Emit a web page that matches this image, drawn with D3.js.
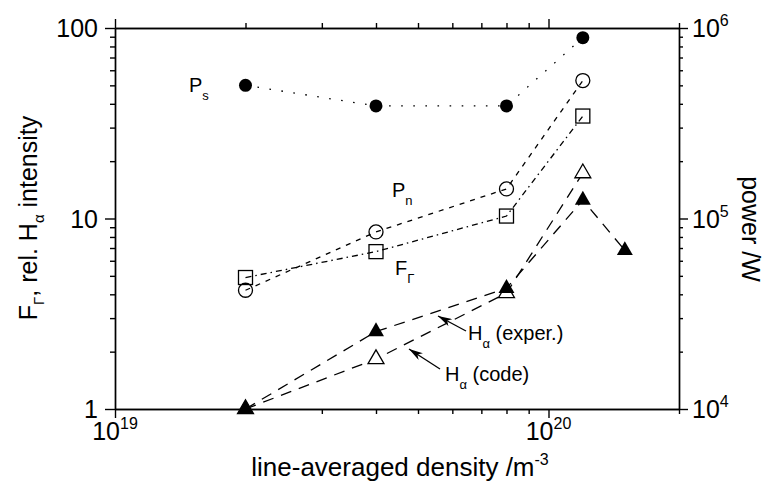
<!DOCTYPE html>
<html lang="en">
<head>
<meta charset="UTF-8"/>
<title>Density scan</title>
<script src="https://d3js.org/d3.v7.min.js"></script>
<style>
  body { margin: 0; background: #fff; }
  text { font-family: "Liberation Sans", Arial, sans-serif; fill: #000; }
</style>
</head>
<body>
<script>
    // line-averaged density (m^-3)
    var density = [2e19, 4e19, 8e19, 1.2e20];
    var densityHaExp = [2e19, 4e19, 8e19, 1.2e20, 1.5e20];

    // right axis (power /W)
    var ps = [5.0e5, 3.9e5, 3.9e5, 8.9e5];
    var pn = [4.2e4, 8.5e4, 1.43e5, 5.3e5];

    // left axis (F_Gamma, rel. H_alpha intensity)
    var fGamma = [4.9, 6.7, 10.3, 34.5];
    var haExp = [1.0, 2.55, 4.3, 12.5, 6.8];
    var haCode = [1.0, 1.83, 4.06, 17.3];

    var xMajor = [1e19, 1e20];
    var xMajorLabels = ["19", "20"];
    var yLeftMajor = [1, 10, 100];
    var yLeftLabels = ["1", "10", "100"];
    var yRightMajor = [1e4, 1e5, 1e6];
    var yRightLabels = ["4", "5", "6"];

    var w = 772, h = 486;
    var pLeft = 115, pRight = 679, pTop = 28, pBottom = 409;

    var svg = d3.select("body").append("svg")
        .attr("width", w)
        .attr("height", h);

    var x = d3.scaleLog().domain([1e19, 2e20]).range([pLeft, pRight]);
    var yL = d3.scaleLog().domain([1, 100]).range([pBottom, pTop]);
    var yR = d3.scaleLog().domain([1e4, 1e6]).range([pBottom, pTop]);

    function minors(lo, hi) {
        var out = [];
        for (var d = lo; d < hi; d *= 10) {
            for (var k = 2; k <= 9; k++) {
                if (d * k <= hi) out.push(d * k);
            }
        }
        return out;
    }

    var xMinor = minors(1e19, 2e20);
    var yLMinor = minors(1, 100);
    var yRMinor = minors(1e4, 1e6);

    function drawAxis(axis, pos, tv, size) {
        var g = svg.append("g")
            .attr("transform", pos)
            .call(axis.tickValues(tv).tickSize(size).tickSizeOuter(0).tickFormat(""));
        g.selectAll("path, line").attr("stroke", "#000").attr("stroke-width", 1.4);
        return g;
    }

    // frame + ticks (outward)
    drawAxis(d3.axisBottom(x), "translate(0," + pBottom + ")", xMinor, 5);
    drawAxis(d3.axisBottom(x), "translate(0," + pBottom + ")", xMajor, 9);
    drawAxis(d3.axisTop(x), "translate(0," + pTop + ")", xMinor, 5);
    drawAxis(d3.axisTop(x), "translate(0," + pTop + ")", xMajor, 9);
    drawAxis(d3.axisLeft(yL), "translate(" + pLeft + ",0)", yLMinor, 5);
    drawAxis(d3.axisLeft(yL), "translate(" + pLeft + ",0)", yLeftMajor, 10);
    drawAxis(d3.axisRight(yR), "translate(" + pRight + ",0)", yRMinor, 4);
    drawAxis(d3.axisRight(yR), "translate(" + pRight + ",0)", yRightMajor, 9);

    // tick labels
    svg.selectAll(".xlab")
        .data(xMajor)
        .enter()
        .append("text")
        .attr("class", "xlab")
        .attr("x", function(d) { return x(d); })
        .attr("y", 440)
        .attr("text-anchor", "middle")
        .attr("font-size", "25px")
        .each(function(d, i) {
            var t = d3.select(this);
            t.append("tspan").text("10");
            t.append("tspan").attr("dy", -11).attr("font-size", "16px").text(xMajorLabels[i]);
        });

    svg.selectAll(".ylab")
        .data(yLeftMajor)
        .enter()
        .append("text")
        .attr("class", "ylab")
        .attr("x", 98)
        .attr("y", function(d) { return yL(d) + 9; })
        .attr("text-anchor", "end")
        .attr("font-size", "25px")
        .text(function(d, i) { return yLeftLabels[i]; });

    svg.selectAll(".rlab")
        .data(yRightMajor)
        .enter()
        .append("text")
        .attr("class", "rlab")
        .attr("x", 692)
        .attr("y", function(d) { return yR(d) + 9; })
        .attr("font-size", "25px")
        .each(function(d, i) {
            var t = d3.select(this);
            t.append("tspan").text("10");
            t.append("tspan").attr("dy", -11).attr("font-size", "16px").text(yRightLabels[i]);
        });

    // axis titles
    var xt = svg.append("text")
        .attr("x", 400)
        .attr("y", 476)
        .attr("text-anchor", "middle")
        .attr("font-size", "26px");
    xt.append("tspan").text("line-averaged density /m");
    xt.append("tspan").attr("dy", -11).attr("font-size", "16px").text("-3");

    var lt = svg.append("text")
        .attr("transform", "translate(37,218) rotate(-90)")
        .attr("text-anchor", "middle")
        .attr("font-size", "25px");
    lt.append("tspan").text("F");
    lt.append("tspan").attr("dy", 7).attr("font-size", "15px").text("Γ");
    lt.append("tspan").attr("dy", -7).text(", rel. H");
    lt.append("tspan").attr("dy", 7).attr("font-size", "15px").text("α");
    lt.append("tspan").attr("dy", -7).text(" intensity");

    svg.append("text")
        .attr("transform", "translate(742,229) rotate(90)")
        .attr("text-anchor", "middle")
        .attr("font-size", "25px")
        .text("power /W");

    // series lines
    function drawLine(xs, ys, yScale, dash) {
        var pts = xs.map(function(d, i) { return [x(d), yScale(ys[i])]; });
        svg.append("path")
            .attr("d", d3.line()(pts))
            .attr("fill", "none")
            .attr("stroke", "#000")
            .attr("stroke-width", 1.3)
            .attr("stroke-dasharray", dash);
    }

    drawLine(density, ps, yR, "1.6,10.5");
    drawLine(density, pn, yR, "5,6");
    drawLine(density, fGamma, yL, "6,4,1.5,4");
    drawLine(densityHaExp, haExp, yL, "11,8");
    drawLine(density, haCode, yL, "11,8");

    // markers
    svg.selectAll(".ps")
        .data(ps)
        .enter()
        .append("circle")
        .attr("cx", function(d, i) { return x(density[i]); })
        .attr("cy", function(d) { return yR(d); })
        .attr("r", 6.5)
        .attr("fill", "#000");

    svg.selectAll(".pn")
        .data(pn)
        .enter()
        .append("circle")
        .attr("cx", function(d, i) { return x(density[i]); })
        .attr("cy", function(d) { return yR(d); })
        .attr("r", 7)
        .attr("fill", "none")
        .attr("stroke", "#000")
        .attr("stroke-width", 1.3);

    svg.selectAll(".fg")
        .data(fGamma)
        .enter()
        .append("rect")
        .attr("x", function(d, i) { return x(density[i]) - 7; })
        .attr("y", function(d) { return yL(d) - 7; })
        .attr("width", 14)
        .attr("height", 14)
        .attr("fill", "none")
        .attr("stroke", "#000")
        .attr("stroke-width", 1.3);

    var tri = d3.symbol().type(d3.symbolTriangle).size(110);

    svg.selectAll(".hc")
        .data(haCode)
        .enter()
        .append("path")
        .attr("d", tri)
        .attr("transform", function(d, i) { return "translate(" + x(density[i]) + "," + yL(d) + ")"; })
        .attr("fill", "#fff")
        .attr("stroke", "#000")
        .attr("stroke-width", 1.3);

    svg.selectAll(".he")
        .data(haExp)
        .enter()
        .append("path")
        .attr("d", tri)
        .attr("transform", function(d, i) { return "translate(" + x(densityHaExp[i]) + "," + yL(d) + ")"; })
        .attr("fill", "#000");

    // annotations
    function label(px, py, main, sub, rest) {
        var t = svg.append("text")
            .attr("x", px)
            .attr("y", py)
            .attr("font-size", "20px");
        t.append("tspan").text(main);
        t.append("tspan").attr("dy", 8).attr("font-size", "13px").text(sub);
        if (rest) t.append("tspan").attr("dy", -8).text(rest);
    }

    label(189, 92, "P", "s");
    label(392, 197, "P", "n");
    label(395, 275, "F", "Γ");
    label(468, 340, "H", "α", " (exper.)");
    label(445, 381, "H", "α", " (code)");

    svg.append("defs").append("marker")
        .attr("id", "arr")
        .attr("viewBox", "0 0 14 8")
        .attr("refX", 0)
        .attr("refY", 4)
        .attr("markerWidth", 14)
        .attr("markerHeight", 8)
        .attr("markerUnits", "userSpaceOnUse")
        .attr("orient", "auto")
        .append("path")
        .attr("d", "M0,4 L14,0 L10,4 L14,8 Z")
        .attr("fill", "#000");

    function arrow(x1, y1, x2, y2) {
        svg.append("line")
            .attr("x1", x2).attr("y1", y2)
            .attr("x2", x1).attr("y2", y1)
            .attr("stroke", "#000")
            .attr("stroke-width", 1.3)
            .attr("marker-start", "url(#arr)");
    }

    arrow(466, 331, 438, 316);
    arrow(440, 369, 409, 349);
</script>
</body>
</html>
